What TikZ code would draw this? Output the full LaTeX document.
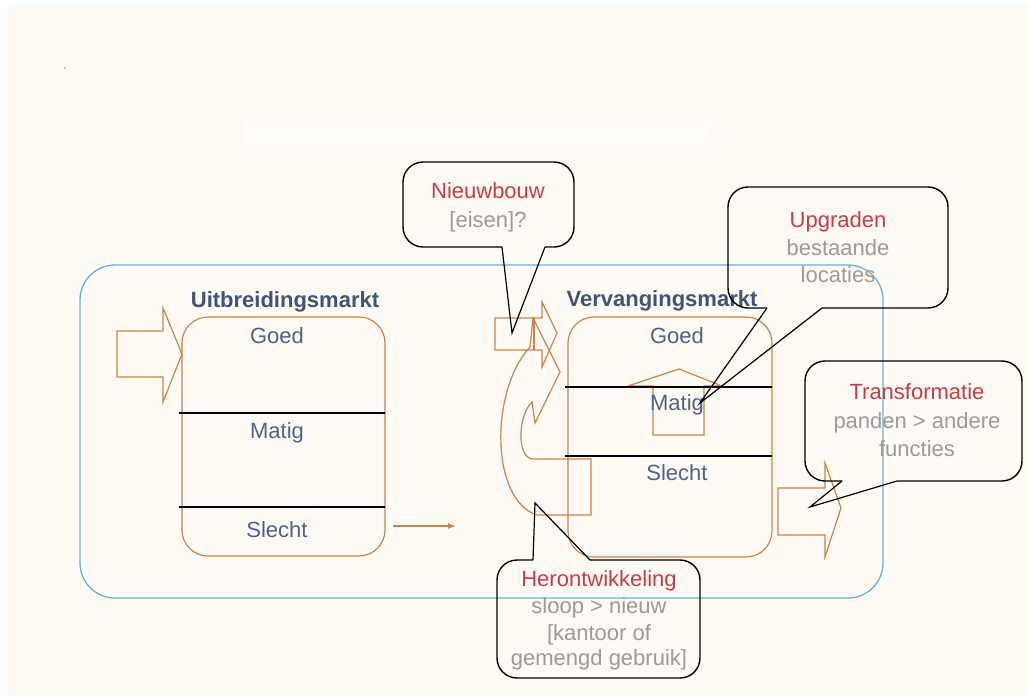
\documentclass[tikz,border=0pt]{standalone}
\usepackage{fontspec}
\setmainfont{Liberation Sans}
\usetikzlibrary{arrows.meta}
\definecolor{bgc}{RGB}{255,251,244}
\definecolor{bandc}{RGB}{255,254,250}
\definecolor{orng}{RGB}{205,130,70}
\definecolor{skyb}{RGB}{100,180,215}
\definecolor{ttlc}{RGB}{60,85,120}
\definecolor{lblc}{RGB}{75,100,140}
\definecolor{redc}{RGB}{200,60,70}
\definecolor{grayc}{RGB}{155,155,155}
\begin{document}
\begin{tikzpicture}[x=1pt,y=-1pt,
  outerbox/.style={draw=skyb,line width=1.3pt,rounded corners=35pt},
  mbox/.style={draw=orng,line width=1.2pt,rounded corners=26pt,inner sep=0pt},
  sepline/.style={draw=black,line width=1.3pt},
  blockarrow/.style={draw=orng,line width=1.2pt,line join=miter},
  oarrow/.style={draw=orng,line width=1.2pt,-{Latex[length=8pt,width=6pt]}},
  callout/.style={draw=black,line width=1.4pt,rounded corners=20pt},
  calltail/.style={draw=black,line width=1.2pt,line join=miter},
  txt/.style={font=\fontsize{22}{28}\selectfont,inner sep=0pt,anchor=base},
  ttl/.style={txt,font=\fontsize{22}{28}\selectfont\bfseries,text=ttlc},
  lbl/.style={txt,text=lblc},
  rtxt/.style={txt,text=redc},
  gtxt/.style={txt,text=grayc}
]
\useasboundingbox (0,0) rectangle (1029,697);
\fill[bgc] (7,5) rectangle (1029,697);
\fill[bandc] (245,123) rectangle (710,143);
\fill[grayc] (65,68) circle (0.8);

% outer market frame
\draw[outerbox] (80,265) rectangle (883,598);

% Uitbreidingsmarkt
\draw[blockarrow] (117,331) -- (163,331) -- (163,308) -- (182,354) -- (163,402) -- (163,377) -- (117,377) -- cycle;
\node[mbox,minimum width=203pt,minimum height=239pt] (ub) at (283.5,436.5) {};
\draw[sepline] (179,413) -- (385,413);
\draw[sepline] (179,507) -- (385,507);
\node[ttl] (ubt) at (285,307) {Uitbreidingsmarkt};
\node[lbl] (ug) at (277,343) {Goed};
\node[lbl] (um) at (277,438) {Matig};
\node[lbl] (us) at (277,537) {Slecht};
\coordinate (sa) at (393,526);
\coordinate (sb) at (456,526);
\draw[oarrow] (sa) -- (sb);

% Nieuwbouw arrow
\draw[blockarrow] (495,318) -- (542,318) -- (542,302) -- (557,333) -- (542,367) -- (542,350) -- (495,350) -- cycle;
\draw[blockarrow] (534,318) -- (534,350);

% curved arrow (herontwikkeling)
\draw[blockarrow] (533,459) -- (591,459) -- (591,515) -- (537,515)
  .. controls (490,500) and (490,390) .. (530,347)
  -- (533,318) -- (560,372) -- (535,423) -- (532,402)
  .. controls (518,415) and (516,458) .. (533,459) -- cycle;

% Vervangingsmarkt
\draw[blockarrow] (653,435) -- (653,386) -- (628,386) -- (679,369) -- (722,386) -- (704,386) -- (704,435) -- cycle;
\node[mbox,minimum width=204pt,minimum height=240pt] (vb) at (670,437) {};
\draw[sepline] (565,387) -- (772,387);
\draw[sepline] (565,456) -- (772,456);
\node[ttl] (vbt) at (662,306) {Vervangingsmarkt};
\node[lbl] (vg) at (677,343) {Goed};
\node[lbl] (vm) at (677,410) {Matig};
\node[lbl] (vs) at (677,480) {Slecht};

% Transformatie arrow
\draw[blockarrow] (778,488) -- (825,488) -- (825,463) -- (841,508) -- (825,557) -- (825,535) -- (778,535) -- cycle;

% Callout: Nieuwbouw
\draw[callout] (502,247) -- (403,247) -- (403,162) -- (574,162) -- (574,247) -- (545,247);
\draw[calltail] (502,247) -- (512,333) -- (545,247);
\node[rtxt] (nb1) at (488,198) {Nieuwbouw};
\node[gtxt] (nb2) at (488,227) {[eisen]?};

% Callout: Upgraden
\draw[callout] (767,308) -- (728,308) -- (728,187) -- (948,187) -- (948,308) -- (822,308);
\draw[calltail] (767,308) -- (700,403) -- (822,308);
\node[rtxt] (up1) at (838,227) {Upgraden};
\node[gtxt] (up2) at (838,255) {bestaande};
\node[gtxt] (up3) at (838,282) {locaties};

% Callout: Transformatie
\draw[callout] (842,481) -- (805,481) -- (805,361) -- (1022,361) -- (1022,481) -- (897,481);
\draw[calltail] (842,481) -- (810,507) -- (897,481);
\node[rtxt] (tf1) at (917,399) {Transformatie};
\node[gtxt] (tf2) at (917,428) {panden > andere};
\node[gtxt] (tf3) at (917,456) {functies};

% Callout: Herontwikkeling
\draw[callout] (533,560) -- (497,560) -- (497,678) -- (700,678) -- (700,560) -- (590,560);
\draw[calltail] (533,560) -- (535,503) -- (590,560);
\node[rtxt] (hw1) at (599,586) {Herontwikkeling};
\node[gtxt] (hw2) at (599,613) {sloop > nieuw};
\node[gtxt] (hw3) at (599,640) {[kantoor of};
\node[gtxt] (hw4) at (599,665) {gemengd gebruik]};
\end{tikzpicture}
\end{document}
